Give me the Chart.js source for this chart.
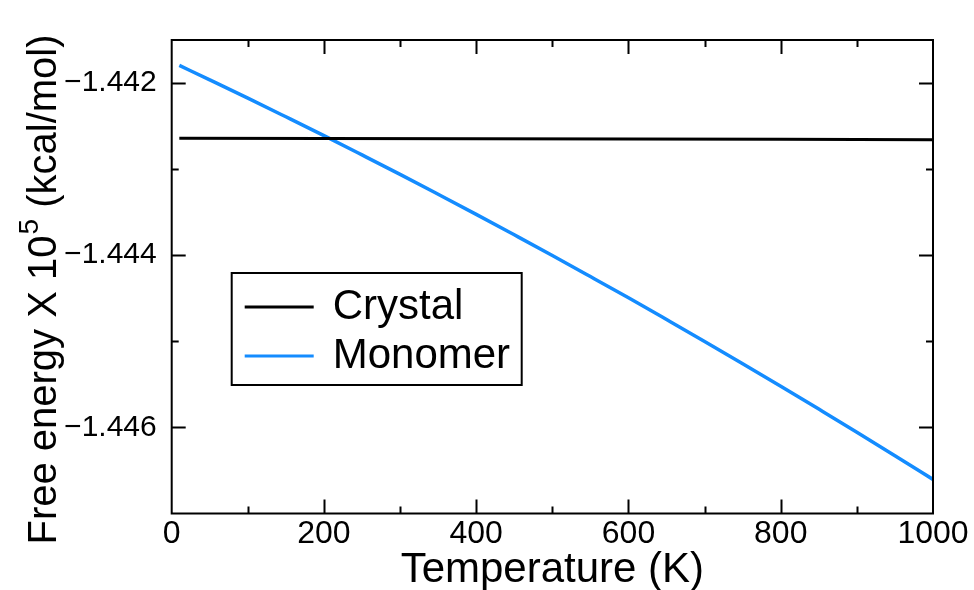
<!DOCTYPE html>
<html>
<head>
<meta charset="utf-8">
<script src="https://cdn.jsdelivr.net/npm/chart.js@4/dist/chart.umd.min.js"></script>
<style>
  html, body { margin: 0; padding: 0; background: #fff; }
  canvas { display: block; }
</style>
</head>
<body>
<canvas id="chart" width="974" height="590"></canvas>
<script>
// Temperature (K)
const crystalT = [10, 200, 400, 600, 800, 1000];
// free energy, units of 10^5 kcal/mol
const crystalG = [-1.44264, -1.442643, -1.442646, -1.44265, -1.442654, -1.442658];

const monomerT = [10, 50, 100, 150, 200, 250, 300, 350, 400, 450, 500,
                  550, 600, 650, 700, 750, 800, 850, 900, 950, 1000];
const monomerG = [-1.441795, -1.441963, -1.442175, -1.442392, -1.442611, -1.442835,
                  -1.443061, -1.443292, -1.443525, -1.443763, -1.444003, -1.444248,
                  -1.444495, -1.444747, -1.445001, -1.445260, -1.445521, -1.445787,
                  -1.446055, -1.446328, -1.446604];

const xTicks = [0, 200, 400, 600, 800, 1000];
const xMinor = [100, 300, 500, 700, 900];
const yTicks = [-1.442, -1.444, -1.446];
const yMinor = [-1.443, -1.445];

const FONT = "'Liberation Sans', Arial, Helvetica, sans-serif";

// frame, inward ticks on all four sides, axis titles, legend box
const framePlugin = {
    id: 'frame',
    afterDraw(chart) {
        const ctx = chart.ctx;
        const ca = chart.chartArea;
        const xs = chart.scales.x, ys = chart.scales.y;
        ctx.save();
        ctx.strokeStyle = '#000';
        ctx.lineWidth = 2;
        ctx.strokeRect(ca.left, ca.top, ca.right - ca.left, ca.bottom - ca.top);

        ctx.beginPath();
        const tickX = (vals, len) => vals.forEach(v => {
            const p = Math.round(xs.getPixelForValue(v)) + 0.5;
            ctx.moveTo(p, ca.bottom); ctx.lineTo(p, ca.bottom - len);
            ctx.moveTo(p, ca.top); ctx.lineTo(p, ca.top + len);
        });
        const tickY = (vals, len) => vals.forEach(v => {
            const p = Math.round(ys.getPixelForValue(v)) + 0.5;
            ctx.moveTo(ca.left, p); ctx.lineTo(ca.left + len, p);
            ctx.moveTo(ca.right, p); ctx.lineTo(ca.right - len, p);
        });
        tickX(xTicks.slice(1, -1), 14);
        tickX(xMinor, 7);
        tickY(yTicks, 14);
        tickY(yMinor, 7);
        ctx.stroke();

        // x title
        ctx.fillStyle = '#000';
        ctx.font = '42px ' + FONT;
        ctx.textAlign = 'center';
        ctx.textBaseline = 'alphabetic';
        ctx.fillText('Temperature (K)', (ca.left + ca.right) / 2, 582);

        // y title with superscript
        const a = 'Free energy X 10', sup = '5', b = ' (kcal/mol)';
        ctx.translate(56, 290);
        ctx.rotate(-Math.PI / 2);
        ctx.textAlign = 'left';
        ctx.font = '40px ' + FONT;
        const wa = ctx.measureText(a).width, wb = ctx.measureText(b).width;
        ctx.font = '28px ' + FONT;
        const ws = ctx.measureText(sup).width;
        let x0 = -(wa + ws + wb) / 2;
        ctx.font = '40px ' + FONT;
        ctx.fillText(a, x0, 0);
        ctx.font = '28px ' + FONT;
        ctx.fillText(sup, x0 + wa + 1, -18);
        ctx.font = '40px ' + FONT;
        ctx.fillText(b, x0 + wa + ws + 1, 0);
        ctx.restore();

        // legend
        ctx.save();
        const lx = ca.left + 60, ly = ca.top + 233, lw = 290, lh = 112;
        ctx.strokeStyle = '#000';
        ctx.lineWidth = 2;
        ctx.strokeRect(lx, ly, lw, lh);
        ctx.font = '42px ' + FONT;
        ctx.textBaseline = 'middle';
        ctx.fillStyle = '#000';
        chart.data.datasets.forEach((ds, i) => {
            const y = ly + 34 + i * 49;
            ctx.strokeStyle = ds.borderColor;
            ctx.lineWidth = 3;
            ctx.beginPath();
            ctx.moveTo(lx + 13, y); ctx.lineTo(lx + 82, y);
            ctx.stroke();
            ctx.fillText(ds.label, lx + 101, y);
        });
        ctx.restore();
    }
};

new Chart(document.getElementById('chart'), {
    type: 'line',
    data: {
        datasets: [
            {
                label: 'Crystal',
                data: crystalT.map((t, i) => ({ x: t, y: crystalG[i] })),
                borderColor: '#000000',
                borderWidth: 3,
                pointRadius: 0,
                tension: 0
            },
            {
                label: 'Monomer',
                data: monomerT.map((t, i) => ({ x: t, y: monomerG[i] })),
                borderColor: 'rgb(20, 140, 255)',
                borderWidth: 3.5,
                pointRadius: 0,
                cubicInterpolationMode: 'monotone'
            }
        ]
    },
    options: {
        responsive: false,
        animation: false,
        devicePixelRatio: 1,
        layout: { padding: { top: 40, right: 41, left: 0, bottom: 0 } },
        plugins: {
            legend: { display: false },
            tooltip: { enabled: false }
        },
        scales: {
            x: {
                type: 'linear',
                min: 0,
                max: 1000,
                afterBuildTicks: s => { s.ticks = xTicks.map(v => ({ value: v })); },
                afterFit: s => { s.height = 76.5; },
                grid: { display: false },
                border: { display: false },
                ticks: {
                    color: '#000',
                    font: { family: FONT, size: 32 },
                    padding: -7,
                    maxRotation: 0,
                    callback: v => String(v)
                }
            },
            y: {
                type: 'linear',
                min: -1.447,
                max: -1.4415,
                afterBuildTicks: s => { s.ticks = yTicks.map(v => ({ value: v })); },
                afterFit: s => { s.width = 171.7; },
                grid: { display: false },
                border: { display: false },
                ticks: {
                    color: '#000',
                    font: { family: FONT, size: 30 },
                    padding: 7,
                    callback: v => v.toFixed(3).replace('-', '\u2212')
                }
            }
        }
    },
    plugins: [framePlugin]
});
</script>
</body>
</html>
